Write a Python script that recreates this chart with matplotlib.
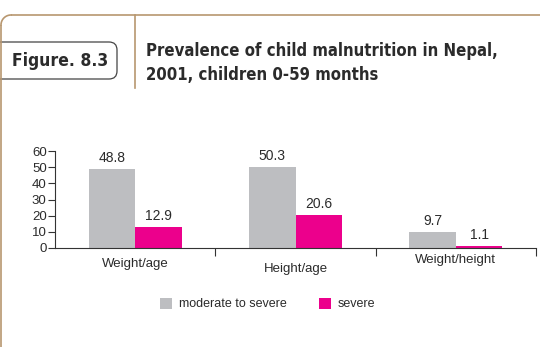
import matplotlib.pyplot as plt
from matplotlib.patches import FancyBboxPatch
import numpy as np

# malnutrition prevalence (%), Nepal 2001
indicators = ["Weight/age", "Height/age", "Weight/height"]
moderate_to_severe = [48.8, 50.3, 9.7]
severe = [12.9, 20.6, 1.1]
series_names = ["moderate to severe", "severe"]
y_ticks = [0, 10, 20, 30, 40, 50, 60]

title = "Prevalence of child malnutrition in Nepal,\n2001, children 0-59 months"
fig_tag = "Figure. 8.3"

grey = "#bdbec1"
pink = "#ec008c"
tan = "#b8976f"
ink = "#2b2b2b"

plt.rcParams["font.family"] = ["Liberation Sans", "DejaVu Sans"]

W, H = 540, 347
fig = plt.figure(figsize=(W / 100, H / 100), dpi=100)

# page furniture in pixel coordinates
deco = fig.add_axes([0, 0, 1, 1], zorder=0)
deco.set_xlim(0, W)
deco.set_ylim(H, 0)
deco.axis("off")
r = 10
deco.plot([1 + r, W], [15, 15], color=tan, lw=1.2, solid_capstyle="butt")
deco.plot([1, 1], [15 + r, H], color=tan, lw=1.2, solid_capstyle="butt")
t = np.linspace(np.pi, 1.5 * np.pi, 20)
deco.plot(1 + r + r * np.cos(t), 15 + r + r * np.sin(t), color=tan, lw=1.2)
deco.plot([135, 135], [15, 88], color=tan, lw=1.2)
box = FancyBboxPatch((-20, 42), 137, 37, boxstyle="round,pad=0,rounding_size=8",
                     facecolor="white", edgecolor="#444444", lw=0.9)
deco.add_patch(box)
deco.text(60, 61, fig_tag, family="DejaVu Sans", fontstretch="condensed",
          fontweight="bold", fontsize=12.5, color=ink, ha="center", va="center")
deco.text(146, 63, title, family="DejaVu Sans", fontstretch="condensed",
          fontweight="bold", fontsize=12, color=ink, ha="left", va="center",
          linespacing=1.45)

# bar chart
ax = fig.add_axes([55 / W, (H - 248) / H, 481 / W, 97 / H], zorder=1)
ax.patch.set_alpha(0)
x = np.arange(len(indicators))
bw = 0.29
ax.bar(x - bw / 2, moderate_to_severe, bw, color=grey, label=series_names[0])
ax.bar(x + bw / 2, severe, bw, color=pink, label=series_names[1])

for xi, v in zip(x - bw / 2, moderate_to_severe):
    ax.text(xi, v + 2.5, f"{v}", ha="center", va="bottom", fontsize=10, color=ink)
for xi, v in zip(x + bw / 2, severe):
    ax.text(xi, v + 2.5, f"{v}", ha="center", va="bottom", fontsize=10, color=ink)

ax.set_xlim(-0.5, 2.5)
ax.set_ylim(0, 60)
ax.set_yticks(y_ticks)
ax.set_yticklabels([str(v) for v in y_ticks], fontsize=9.5, color=ink)
ax.set_xticks([0.5, 1.5, 2.5])
ax.set_xticklabels([])
ax.tick_params(axis="y", direction="out", length=5, width=0.8, color="#333333", pad=1)
ax.tick_params(axis="x", direction="out", length=6, width=0.8, color="#333333")
for s in ["top", "right"]:
    ax.spines[s].set_visible(False)
for s in ["left", "bottom"]:
    ax.spines[s].set_color("#333333")
    ax.spines[s].set_linewidth(0.8)

# category names sit at slightly different heights
label_drop = [-7.5, -10.5, -4.5]
for xi, name, dy in zip(x, indicators, label_drop):
    ax.annotate(name, (xi, 0), xytext=(0, dy), textcoords="offset points",
                ha="center", va="top", fontsize=9.5, color=ink, annotation_clip=False)

leg = fig.legend(loc="center", bbox_to_anchor=(268 / W, 1 - 304 / H), ncol=2,
                 frameon=False, fontsize=9, handlelength=0.9, handleheight=1.0,
                 handletextpad=0.6, columnspacing=2.6, labelcolor=ink)

fig.savefig("out.png", dpi=100)
